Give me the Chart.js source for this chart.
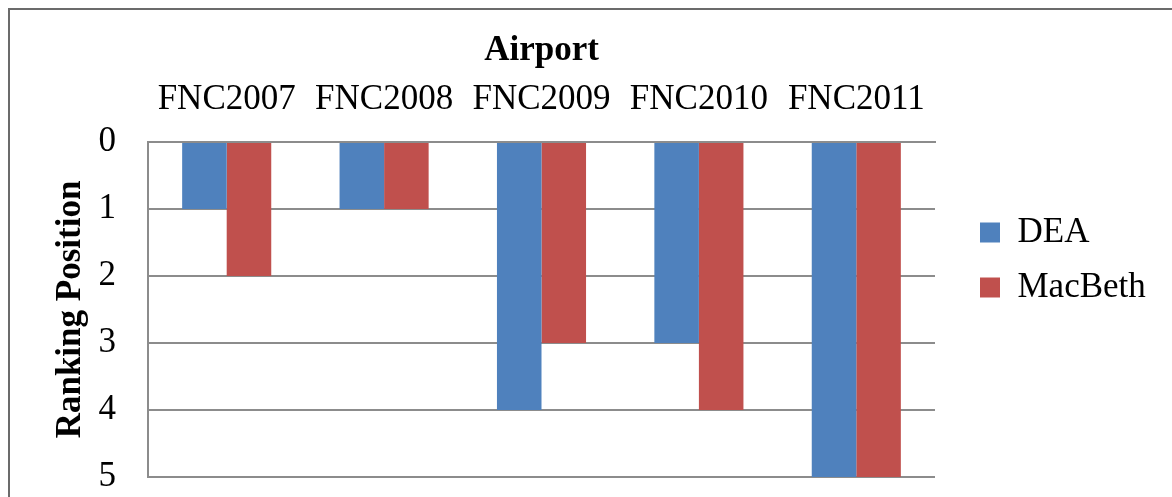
<!DOCTYPE html>
<html>
<head>
<meta charset="utf-8">
<script src="https://cdn.jsdelivr.net/npm/chart.js@4"></script>
<style>
  html, body { margin: 0; padding: 0; background: #ffffff; }
  #wrap { position: relative; width: 1172px; height: 497px; overflow: hidden; }
  #frame { position: absolute; left: 8px; top: 8px; width: 1300px; height: 700px;
           border-left: 2px solid #6b6b6b; border-top: 2px solid #6b6b6b; }
  #c { position: absolute; left: 0; top: 0; }
</style>
</head>
<body>
<div id="wrap">
  <div id="frame"></div>
  <canvas id="c" width="1172" height="497"></canvas>
</div>
<script>
// Airports (years) and their ranking positions under each method
const categories = ['FNC2007', 'FNC2008', 'FNC2009', 'FNC2010', 'FNC2011'];
const deaRank = [1, 1, 4, 3, 5];
const macbethRank = [2, 1, 3, 4, 5];
const rankTicks = [0, 1, 2, 3, 4, 5];

const SERIF = "'Liberation Serif', 'Times New Roman', serif";
const GRID = '#8c8c8c';
const FS = 35;

// Fixed legend column width and a nudge of the legend items
const legendPlace = {
  id: 'legendPlace',
  afterInit(chart) {
    const lg = chart.legend;
    const fit = lg.fit.bind(lg);
    lg.fit = function () { fit(); this.width = 237; };
  },
  afterLayout(chart) {
    const lg = chart.legend;
    lg.left += 25;
    lg.right += 25;
    lg.top += 8;
    lg.bottom += 8;
  }
};

new Chart(document.getElementById('c'), {
  type: 'bar',
  data: {
    labels: categories,
    datasets: [
      { label: 'DEA', data: deaRank, backgroundColor: '#4f81bd', borderWidth: 0 },
      { label: 'MacBeth', data: macbethRank, backgroundColor: '#c0504d', borderWidth: 0 }
    ]
  },
  options: {
    responsive: false,
    animation: false,
    devicePixelRatio: 1,
    layout: { padding: { left: 47, top: 27, right: 0, bottom: 20 } },
    datasets: { bar: { categoryPercentage: 0.566, barPercentage: 1.0 } },
    scales: {
      x: {
        position: 'top',
        grid: { display: false, drawTicks: false },
        border: { display: true, color: GRID, width: 2 },
        ticks: { color: '#000', font: { family: SERIF, size: FS }, padding: 21, maxRotation: 0 },
        title: { display: true, text: 'Airport', color: '#000',
                 font: { family: SERIF, size: FS, weight: 'bold' }, padding: { top: 3, bottom: 4 } },
        afterFit(scale) { scale.height = 115; }
      },
      y: {
        reverse: true,
        min: 0,
        max: 5,
        afterBuildTicks(scale) { scale.ticks = rankTicks.map(v => ({ value: v })); },
        grid: { color: GRID, lineWidth: 2, drawTicks: false },
        border: { display: true, color: GRID, width: 2 },
        ticks: { color: '#000', font: { family: SERIF, size: FS }, padding: 32 },
        title: { display: true, text: 'Ranking Position', color: '#000',
                 font: { family: SERIF, size: FS, weight: 'bold' }, padding: { top: 3, bottom: 4 } },
        afterFit(scale) {
          scale.width = 101;
          scale.paddingTop = 0;
          scale.paddingBottom = 0;
        }
      }
    },
    plugins: {
      legend: {
        position: 'right',
        labels: {
          color: '#000',
          font: { family: SERIF, size: FS },
          boxWidth: 20,
          boxHeight: 20,
          padding: 20
        }
      },
      tooltip: { enabled: false }
    }
  },
  plugins: [legendPlace]
});
</script>
</body>
</html>
